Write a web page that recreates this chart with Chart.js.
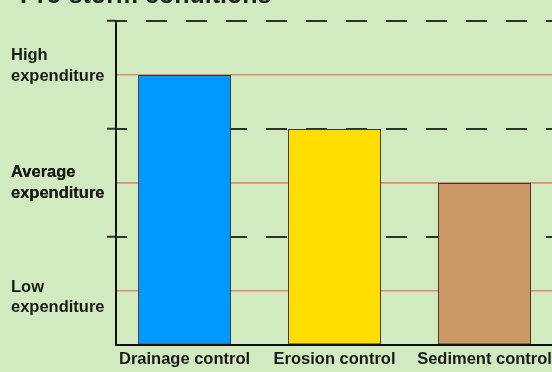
<!DOCTYPE html>
<html>
<head>
<meta charset="utf-8">
<script src="https://cdn.jsdelivr.net/npm/chart.js@4/dist/chart.umd.min.js"></script>
<style>
  html, body { margin: 0; padding: 0; background: #d2eac0; }
  canvas { display: block; }
</style>
</head>
<body>
<canvas id="c" width="552" height="372"></canvas>
<script>
// ---- data ----
const titleText = "Pre-storm conditions";
const categories = ["Drainage control", "Erosion control", "Sediment control"];
const values = [5, 4, 3];
const barColors = ["#0099ff", "#ffdd00", "#cc9966"];
const levelValues = [1, 3, 5];
const levelLabels = [["Low", "expenditure"], ["Average", "expenditure"], ["High", "expenditure"]];
const dashLevels = [2, 4, 6];

// where each level label sits on the value axis (labels are not exactly centred on the lines)
const LABEL_ANCHORS = [0.88, 3.0, 5.17];
const X_MIN = -0.457, X_MAX = 2.45;
const FONT = "'Liberation Sans', Arial, sans-serif";

const bgPlugin = {
  id: 'bg',
  beforeDraw(chart) {
    const c = chart.ctx;
    c.save();
    c.fillStyle = '#d2eac0';
    c.fillRect(0, 0, chart.width, chart.height);
    c.restore();
  },
  afterDraw(chart) {
    const c = chart.ctx;
    c.save();
    c.fillStyle = '#1e231c';
    c.font = "bold 25px " + FONT;
    c.textBaseline = 'alphabetic';
    c.textAlign = 'left';
    c.fillText(titleText, 20, 3);
    c.restore();
  }
};

const barDataset = {
  type: 'bar',
  data: values.map((v, i) => ({ x: i, y: v })),
  backgroundColor: barColors,
  borderColor: '#3a3a2a',
  borderWidth: 1,
  borderSkipped: false,
  categoryPercentage: 1,
  barPercentage: 0.62,
  order: 1
};

const dashDatasets = dashLevels.map(lv => ({
  type: 'line',
  data: [{ x: X_MIN, y: lv }, { x: X_MAX, y: lv }],
  borderColor: '#2b3328',
  borderWidth: 2,
  borderDash: [21, 19],
  borderDashOffset: 10,
  pointRadius: 0,
  clip: false,
  order: 2
}));

new Chart(document.getElementById('c'), {
  type: 'bar',
  data: { datasets: [barDataset, ...dashDatasets] },
  plugins: [bgPlugin],
  options: {
    responsive: false,
    animation: false,
    layout: { padding: { left: 11, top: 21, right: 0, bottom: 0 } },
    plugins: { legend: { display: false }, tooltip: { enabled: false }, title: { display: false } },
    scales: {
      x: {
        type: 'linear',
        offset: false,
        min: X_MIN,
        max: X_MAX,
        grid: { display: false, drawTicks: false },
        border: { display: true, color: '#111', width: 2 },
        afterFit(s) { s.height = 27; s.paddingLeft = 0; s.paddingRight = 0; },
        ticks: {
          stepSize: 1,
          includeBounds: false,
          autoSkip: false,
          maxRotation: 0,
          padding: 5,
          color: '#1a1a1a',
          font: { family: FONT, size: 16.5, weight: 'bold' },
          callback: v => (Number.isInteger(v) && categories[v] !== undefined) ? categories[v] : ''
        }
      },
      y: {
        type: 'linear',
        min: 0,
        max: 6,
        afterBuildTicks(s) {
          const t = [];
          for (let v = 0; v <= 6; v++) t.push({ value: v });
          LABEL_ANCHORS.forEach(v => t.push({ value: v }));
          t.sort((a, b) => a.value - b.value);
          s.ticks = t;
        },
        afterFit(s) { s.width = 105; s.paddingTop = 0; s.paddingBottom = 0; },
        grid: {
          drawTicks: true,
          tickLength: 9,
          lineWidth: 1.5,
          tickWidth: 2,
          color: ctx => (ctx.tick && levelValues.includes(ctx.tick.value)) ? '#e08a70' : 'rgba(0,0,0,0)',
          tickColor: ctx => (ctx.tick && dashLevels.includes(ctx.tick.value)) ? '#2b3328' : 'rgba(0,0,0,0)'
        },
        border: { display: true, color: '#111', width: 2 },
        ticks: {
          autoSkip: false,
          crossAlign: 'far',
          color: '#1a1a1a',
          font: { family: FONT, size: 16.5, weight: 'bold', lineHeight: 1.25 },
          callback: v => { const i = LABEL_ANCHORS.indexOf(v); return i >= 0 ? levelLabels[i] : ''; }
        }
      }
    }
  }
});
</script>
</body>
</html>
